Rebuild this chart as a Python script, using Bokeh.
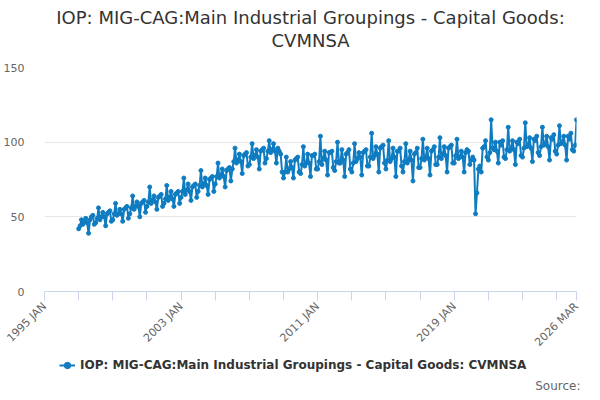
import math
import pandas as pd
from bokeh.plotting import figure
from bokeh.layouts import column
from bokeh.models import (ColumnDataSource, FixedTicker, CustomJSTickFormatter,
                          Legend, LegendItem, Range1d, Title)
from bokeh.core.properties import value
from bokeh.embed import file_html
from bokeh.resources import INLINE

# monthly values, Jan 1997 .. Mar 2026
v1997 = [42, 44, 48, 45, 47, 49, 46, 39, 48, 50, 51, 45]
v1998 = [46, 49, 56, 48, 50, 53, 50, 44, 52, 53, 54, 47]
v1999 = [48, 52, 59, 51, 52, 55, 52, 47, 55, 56, 57, 49]
v2000 = [52, 56, 64, 55, 57, 60, 57, 50, 59, 60, 61, 53]
v2001 = [57, 60, 70, 59, 61, 64, 60, 55, 63, 64, 65, 57]
v2002 = [59, 62, 71, 61, 63, 67, 62, 57, 65, 66, 67, 59]
v2003 = [63, 67, 76, 65, 68, 72, 67, 61, 70, 71, 72, 63]
v2004 = [67, 71, 81, 70, 72, 76, 71, 65, 75, 76, 77, 67]
v2005 = [72, 77, 86, 76, 78, 82, 77, 70, 81, 82, 83, 74]
v2006 = [82, 87, 96, 86, 88, 92, 87, 79, 91, 92, 93, 84]
v2007 = [85, 90, 99, 89, 91, 95, 90, 82, 94, 95, 96, 86]
v2008 = [89, 94, 101, 93, 95, 99, 94, 86, 96, 94, 92, 80]
v2009 = [76, 80, 90, 80, 82, 87, 83, 76, 88, 89, 90, 80]
v2010 = [79, 85, 97, 84, 86, 92, 86, 77, 91, 91, 92, 82]
v2011 = [82, 87, 104, 85, 89, 94, 88, 78, 93, 93, 94, 83]
v2012 = [81, 87, 100, 86, 86, 95, 88, 77, 92, 93, 95, 82]
v2013 = [80, 86, 99, 87, 89, 93, 90, 78, 93, 94, 95, 84]
v2014 = [84, 90, 106, 89, 91, 97, 92, 80, 96, 97, 98, 86]
v2015 = [82, 88, 101, 87, 89, 96, 90, 77, 94, 94, 96, 84]
v2016 = [80, 87, 99, 86, 88, 94, 88, 74, 92, 93, 96, 83]
v2017 = [83, 89, 102, 88, 90, 96, 89, 78, 94, 95, 97, 85]
v2018 = [85, 90, 103, 89, 92, 97, 91, 80, 96, 97, 98, 86]
v2019 = [86, 91, 102, 89, 90, 94, 90, 80, 93, 95, 94, 85]
v2020 = [88, 90, 88, 52, 66, 82, 84, 80, 96, 97, 101, 90]
v2021 = [88, 93, 115, 96, 95, 100, 94, 86, 100, 98, 101, 90]
v2022 = [89, 95, 110, 94, 96, 101, 95, 85, 100, 99, 102, 91]
v2023 = [90, 96, 113, 97, 98, 103, 96, 87, 102, 101, 104, 93]
v2024 = [91, 97, 110, 98, 99, 104, 97, 88, 103, 102, 105, 94]
v2025 = [92, 98, 111, 99, 100, 104, 98, 88, 104, 102, 106, 95]
v2026 = [94, 98, 115]

values = (v1997 + v1998 + v1999 + v2000 + v2001 + v2002 + v2003 + v2004 + v2005
          + v2006 + v2007 + v2008 + v2009 + v2010 + v2011 + v2012 + v2013 + v2014
          + v2015 + v2016 + v2017 + v2018 + v2019 + v2020 + v2021 + v2022 + v2023
          + v2024 + v2025 + v2026)
dates = pd.date_range("1997-01-01", periods=len(values), freq="MS")

tick_dates = [f"{y}-01-01" for y in range(1995, 2026, 2)] + ["2026-03-01"]
label_dates = ["1995-01-01", "2003-01-01", "2011-01-01", "2019-01-01", "2026-03-01"]
label_texts = ["1995 JAN", "2003 JAN", "2011 JAN", "2019 JAN", "2026 MAR"]

title_lines = ["IOP: MIG-CAG:Main Industrial Groupings - Capital Goods:", "CVMNSA"]
series_name = "IOP: MIG-CAG:Main Industrial Groupings - Capital Goods: CVMNSA"
source_text = "Source:"

FONT = "DejaVu Sans"
BLUE = "#0f7cc1"
W = 584


def ms(d):
    return pd.Timestamp(d).value / 1e6


def blank(height):
    # a figure whose frame is the whole canvas, y measured from the top in px
    f = figure(width=W, height=height, output_backend="svg", toolbar_location=None,
               x_range=Range1d(0, W), y_range=Range1d(height, 0),
               min_border=0, x_axis_type=None, y_axis_type=None)
    f.outline_line_color = None
    f.grid.visible = False
    return f


# title block
top = blank(59)
top.text(x=[W / 2, W / 2], y=[17, 40], text=title_lines, text_align="center",
         text_baseline="middle", text_font=value(FONT), text_font_size="18px",
         text_color="#333333")

# main chart
src = ColumnDataSource(dict(x=dates, y=values))
p_main = figure(width=W, height=297, x_axis_type="datetime", output_backend="svg",
                toolbar_location=None, min_border_left=37, min_border_right=8,
                min_border_top=8, min_border_bottom=64)
p_main.x_range = Range1d(ms("1995-01-01"), ms("2026-03-01"))
p_main.y_range = Range1d(0, 150)
p_main.outline_line_color = None

p_main.line("x", "y", source=src, color=BLUE, line_width=2)
p_main.scatter("x", "y", source=src, color=BLUE, size=4)

p_main.yaxis.ticker = FixedTicker(ticks=[0, 50, 100, 150])
p_main.yaxis.axis_line_color = None
p_main.yaxis.major_tick_line_color = None
p_main.yaxis.minor_tick_line_color = None
p_main.yaxis.major_label_text_font = FONT
p_main.yaxis.major_label_text_font_size = "11px"
p_main.yaxis.major_label_text_color = "#666666"
p_main.yaxis.major_label_standoff = 14

p_main.xaxis.ticker = FixedTicker(ticks=[ms(d) for d in tick_dates], minor_ticks=[])
p_main.xaxis.formatter = CustomJSTickFormatter(
    args=dict(pos=[ms(d) for d in label_dates], labels=label_texts),
    code="const i = pos.indexOf(tick); return i >= 0 ? labels[i] : '';")
p_main.xaxis.axis_line_color = "#ccd6eb"
p_main.xaxis.major_tick_line_color = "#ccd6eb"
p_main.xaxis.major_tick_in = 0
p_main.xaxis.major_tick_out = 9
p_main.xaxis.minor_tick_line_color = None
p_main.xaxis.major_label_orientation = math.pi / 4
p_main.xaxis.major_label_text_font = FONT
p_main.xaxis.major_label_text_font_size = "11px"
p_main.xaxis.major_label_text_color = "#666666"
p_main.xaxis.major_label_standoff = 4

p_main.xgrid.grid_line_color = None
p_main.ygrid.grid_line_color = "#e6e6e6"

# legend and source line
bottom = blank(36)
key_src = ColumnDataSource(dict(x=[-50, -40], y=[-50, -50]))
k_ln = bottom.line("x", "y", source=key_src, color=BLUE, line_width=2)
k_sc = bottom.scatter("x", "y", source=key_src, color=BLUE, size=4)
legend = Legend(items=[LegendItem(label=series_name, renderers=[k_ln, k_sc])],
                orientation="horizontal", location=(15, 1),
                label_text_font=FONT, label_text_font_size="12px",
                label_text_font_style="bold", label_text_color="#333333",
                glyph_width=16, label_standoff=5, border_line_color=None,
                background_fill_alpha=0, margin=0, padding=0)
bottom.add_layout(legend)
bottom.add_layout(Title(text=source_text, align="right", offset=-4, standoff=0,
                        text_font=FONT, text_font_size="12px",
                        text_font_style="normal", text_color="#666666"), "below")

p = column(top, p_main, bottom, spacing=0)

open("out.html", "w").write(file_html(p, INLINE))
